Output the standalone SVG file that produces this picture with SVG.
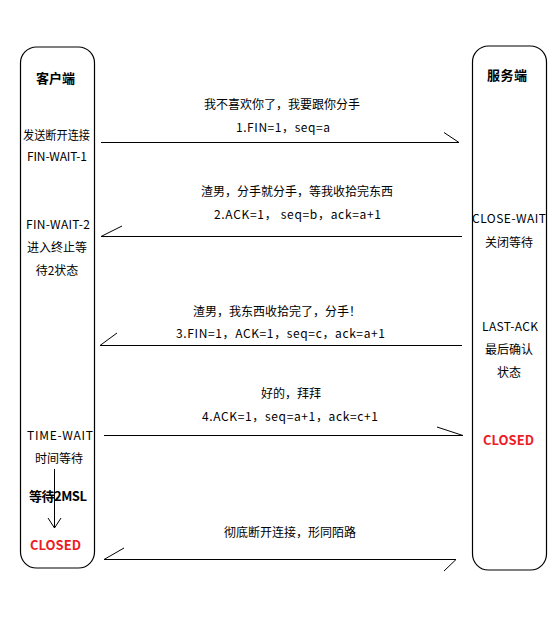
<svg xmlns="http://www.w3.org/2000/svg" width="560" height="617" viewBox="0 0 560 617">
<style>
text{font-family:"Noto Sans CJK SC","Noto Sans",sans-serif;font-size:12px;fill:#000;text-anchor:middle;}
.b{font-weight:bold;font-size:13px;}
.red{fill:#ee1c25;font-weight:bold;font-size:13px;}
.box{fill:#fff;stroke:#000;stroke-width:1.2;}
.ln{stroke:#000;stroke-width:1;fill:none;}
</style>
<rect width="560" height="617" fill="#fff"/>
<g id="client">
<rect class="box" x="20.5" y="47" width="74" height="521" rx="16" ry="16"/>
<text class="b" x="55.5" y="83" textLength="39">客户端</text>
<text x="56.5" y="140" textLength="67" lengthAdjust="spacingAndGlyphs">发送断开连接</text>
<text x="57" y="161" textLength="60">FIN-WAIT-1</text>
<text x="58" y="229" textLength="64">FIN-WAIT-2</text>
<text x="57" y="252">进入终止等</text>
<text x="57" y="275">待2状态</text>
<text x="60" y="440" textLength="66">TIME-WAIT</text>
<text x="59" y="463">时间等待</text>
<text class="b" x="58" y="501" textLength="58">等待2MSL</text>
<text class="red" x="55.5" y="550" textLength="51">CLOSED</text>
</g>
<g id="server">
<rect class="box" x="472.5" y="46" width="74" height="524" rx="16" ry="16"/>
<text class="b" x="507" y="80" textLength="40">服务端</text>
<text x="509" y="223" textLength="74">CLOSE-WAIT</text>
<text x="509" y="247">关闭等待</text>
<text x="510" y="331" textLength="56">LAST-ACK</text>
<text x="509" y="354">最后确认</text>
<text x="509" y="377">状态</text>
<text class="red" x="508.5" y="445" textLength="51">CLOSED</text>
</g>
<g id="labels">
<text x="282" y="109">我不喜欢你了，我要跟你分手</text>
<text x="283" y="132" textLength="94">1.FIN=1，seq=a</text>
<text x="297" y="196">渣男，分手就分手，等我收拾完东西</text>
<text x="297.5" y="219" textLength="167">2.ACK=1， seq=b，ack=a+1</text>
<text x="277" y="316">渣男，我东西收拾完了，分手！</text>
<text x="280.5" y="338" textLength="209">3.FIN=1，ACK=1，seq=c，ack=a+1</text>
<text x="291" y="398">好的，拜拜</text>
<text x="290" y="421" textLength="176">4.ACK=1，seq=a+1，ack=c+1</text>
<text x="290" y="537">彻底断开连接，形同陌路</text>
</g>
<g id="connectors">
<path class="ln" d="M101 142.5H459L444 132.5"/>
<path class="ln" d="M462 236.5H101L122 226"/>
<path class="ln" d="M462 345.5H100L117 333"/>
<path class="ln" d="M104 435.5H463L437 427"/>
<path class="ln" d="M124 548L104 559.5H456L444 571"/>
<path class="ln" d="M54.5 469V528M48 518L54.5 528L61 518"/>
</g>
</svg>
